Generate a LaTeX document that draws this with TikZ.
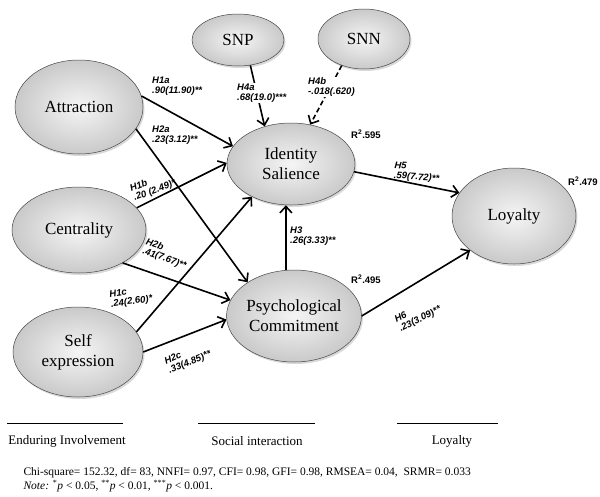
\documentclass[tikz,border=0pt]{standalone}
\usepackage{fontspec}
\setmainfont{Liberation Serif}
\newfontfamily\estfont{Liberation Sans}
\usetikzlibrary{arrows.meta,shapes.geometric,shadows}

\begin{document}
\begin{tikzpicture}[x=1pt,y=-1pt,>={Straight Barb[length=6.5pt,width=12pt]},
  latent/.style={ellipse,draw=gray!55!black,line width=.5pt,shading=radial,inner color=gray!8,outer color=gray!42,
    drop shadow={shadow xshift=1.5pt,shadow yshift=-2pt,opacity=.3},inner sep=0pt,align=center,font=\fontsize{17}{20}\selectfont},
  effect/.style={->,line width=1.6pt},
  est/.style={font=\estfont\bfseries\itshape\fontsize{9.5}{10}\selectfont,align=left,inner sep=1pt},
  rsq/.style={font=\estfont\bfseries\fontsize{9.5}{10}\selectfont,inner sep=1pt}]
\useasboundingbox (0,0) rectangle (600,496);
\node[latent,minimum width=92,minimum height=52] (snp) at (238,40) {SNP};
\node[latent,minimum width=92,minimum height=60] (snn) at (364,39) {SNN};
\node[latent,minimum width=128,minimum height=94] (attr) at (79,107) {Attraction};
\node[latent,minimum width=134,minimum height=86] (cent) at (79,230) {Centrality};
\node[latent,minimum width=130,minimum height=90] (selfx) at (78,352) {Self\\expression};
\node[latent,minimum width=128,minimum height=82] (ident) at (291,164) {Identity\\Salience};
\node[latent,minimum width=134,minimum height=92] (psych) at (294,316) {Psychological\\Commitment};
\node[latent,minimum width=124,minimum height=96] (loyal) at (514,216) {Loyalty};

\draw[effect] (attr.10) -- (ident.163);
\draw[effect] (attr.-21) -- (psych.144);
\draw[effect] (cent.21) -- (ident.179);
\draw[effect] (cent.-37) -- (psych.166);
\draw[effect] (selfx.19) -- (ident.220);
\draw[effect] (selfx.0) -- (psych.183);
\draw[effect] (psych.100) -- (psych.100 |- ident.south);
\draw[effect] (ident.-7) -- (loyal.157);
\draw[effect] (psych.0) -- (loyal.218);
\draw[effect] (snp.-64) -- (ident.125);
\draw[effect,dash pattern=on 5pt off 3pt] (snn.230) -- (ident.64);

\node[est,anchor=west] (h1a) at (151,86) {H1a\\.90(11.90)**};
\node[est,anchor=west] (h2a) at (151,135) {H2a\\.23(3.12)**};
\node[est,rotate=21] (h1b) at (153,186) {H1b\\.20 (2.49)*};
\node[est,rotate=-19] (h2b) at (166,254) {H2b\\.41(7.67)**};
\node[est,rotate=8] (h1c) at (131,297) {H1c\\.24(2.60)*};
\node[est,rotate=23] (h2c) at (188,358) {H2c\\.33(4.85)**};
\node[est,anchor=west] (h3) at (289,236) {H3\\.26(3.33)**};
\node[est,anchor=west,fill=white] (h4a) at (236,93) {H4a\\.68(19.0)***};
\node[est,anchor=west,fill=white] (h4b) at (307,87) {H4b\\-.018(.620)};
\node[est,anchor=west,rotate=-4] (h5) at (393,171) {H5\\.59(7.72)**};
\node[est,rotate=27] (h6) at (418,315) {H6\\.23(3.09)**};

\node[rsq] (r2ident) at (366,134) {R\textsuperscript{2}.595};
\node[rsq,anchor=west] (r2loyal) at (567,181) {R\textsuperscript{2}.479};
\node[rsq] (r2psych) at (366,279) {R\textsuperscript{2}.495};

\draw[line width=.7pt] (7,423) -- (123,423);
\draw[line width=.7pt] (198,423) -- (315,423);
\draw[line width=.7pt] (397,423) -- (498,423);
\node[font=\fontsize{13}{15}\selectfont] (grpei) at (67,441) {Enduring Involvement};
\node[font=\fontsize{13}{15}\selectfont] (grpsi) at (257,441) {Social interaction};
\node[font=\fontsize{13}{15}\selectfont] (grplo) at (452,441) {Loyalty};
\node[anchor=west,font=\fontsize{11.5}{14}\selectfont,align=left] (fit) at (20,480)
  {Chi-square= 152.32, df= 83, NNFI= 0.97, CFI= 0.98, GFI= 0.98, RMSEA= 0.04,\ \ SRMR= 0.033\\
   \textit{Note:} \textsuperscript{*}\textit{p} < 0.05, \textsuperscript{**}\textit{p} < 0.01, \textsuperscript{***}\textit{p} < 0.001.};
\end{tikzpicture}
\end{document}
